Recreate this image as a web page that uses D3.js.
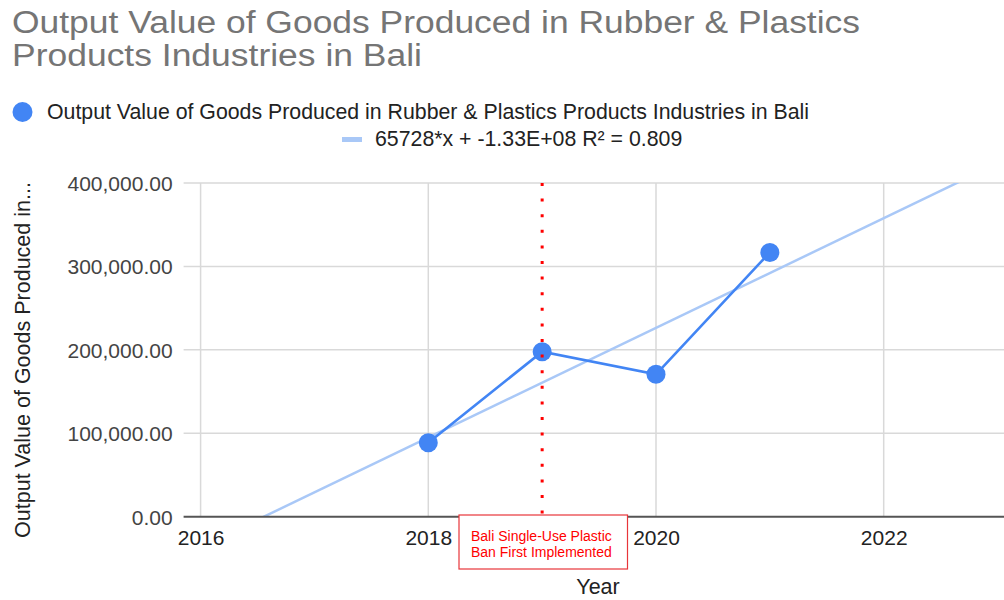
<!DOCTYPE html>
<html>
<head>
<meta charset="utf-8">
<script src="https://cdn.jsdelivr.net/npm/d3@7"></script>
<style>
  html, body { margin: 0; padding: 0; background: #fff; }
  svg { display: block; font-family: "Liberation Sans", Arial, sans-serif; }
</style>
</head>
<body>
<svg id="chart" width="1004" height="600"></svg>
<script>
// Output value by year (Bali, rubber & plastics products industries)
const years = [2018, 2019, 2020, 2021];
const outputValues = [88700, 197800, 170700, 316800];
const xTickYears = [2016, 2018, 2020, 2022];
const yTickValues = [0, 100000, 200000, 300000, 400000];
const titleLines = ["Output Value of Goods Produced in Rubber & Plastics", "Products Industries in Bali"];
const seriesName = "Output Value of Goods Produced in Rubber & Plastics Products Industries in Bali";
const trendLabel = "65728*x + -1.33E+08 R\u00b2 = 0.809";
const banYear = 2019;
const banLabel = ["Bali Single-Use Plastic", "Ban First Implemented"];

const W = 1004, H = 600;
const plot = { left: 200.6, top: 183, bottom: 516.7, right: 1004 };
const FONT = "Liberation Sans, Arial, sans-serif";

const svg = d3.select("#chart");

const x = d3.scaleLinear().domain([2016, 2023.2]).range([plot.left, plot.left + 7.2 * 113.85]);
const y = d3.scaleLinear().domain([0, 400000]).range([plot.bottom, plot.top]);

// Title (two lines, widened to span the header)
const titleWidths = [848, 410];
svg.append("g").selectAll("text").data(titleLines).join("text")
  .attr("x", 12).attr("y", (d, i) => 33 + i * 32.5)
  .attr("fill", "#757575").attr("font-size", 31)
  .attr("textLength", (d, i) => titleWidths[i])
  .attr("lengthAdjust", "spacingAndGlyphs")
  .text(d => d);

// Legend
const leg = svg.append("g");
leg.append("circle").attr("cx", 22.5).attr("cy", 112).attr("r", 10).attr("fill", "#4285f4");
leg.append("text").attr("x", 47).attr("y", 118.5).attr("font-size", 21.3).attr("fill", "#222").text(seriesName);
leg.append("line").attr("x1", 342).attr("x2", 362).attr("y1", 139.5).attr("y2", 139.5)
  .attr("stroke", "#a9c8f7").attr("stroke-width", 5);
leg.append("text").attr("x", 375).attr("y", 145.5).attr("font-size", 21.3).attr("fill", "#222").text(trendLabel);

// Clip for plot contents
svg.append("defs").append("clipPath").attr("id", "plotClip")
  .append("rect").attr("x", plot.left).attr("y", plot.top)
  .attr("width", plot.right - plot.left).attr("height", plot.bottom - plot.top);

// Grid lines
const grid = svg.append("g");
grid.selectAll("line.h").data(yTickValues.filter(v => v > 0)).join("line")
  .attr("class", "h")
  .attr("x1", plot.left - 17).attr("x2", plot.right)
  .attr("y1", d => y(d)).attr("y2", d => y(d))
  .attr("stroke", "#d9d9d9").attr("stroke-width", 1.5);
grid.selectAll("line.v").data(xTickYears).join("line")
  .attr("class", "v")
  .attr("x1", d => x(d)).attr("x2", d => x(d))
  .attr("y1", plot.top).attr("y2", plot.bottom)
  .attr("stroke", "#d9d9d9").attr("stroke-width", 1.5);

// Y axis labels
const yAxis = d3.axisLeft(y).tickValues(yTickValues).tickSize(0).tickPadding(0)
  .tickFormat(d3.format(",.2f"));
const yg = svg.append("g").attr("transform", `translate(${plot.left - 28},0)`).call(yAxis);
yg.select(".domain").remove();
yg.selectAll("text").attr("font-size", 21).attr("fill", "#444").attr("font-family", FONT)
  .attr("dy", "0.36em");

// X axis labels
const xAxis = d3.axisBottom(x).tickValues(xTickYears).tickSize(0).tickPadding(0).tickFormat(d3.format("d"));
const xg = svg.append("g").attr("transform", "translate(0,545)").call(xAxis);
xg.select(".domain").remove();
xg.selectAll("text").attr("font-size", 21).attr("fill", "#222").attr("font-family", FONT)
  .attr("y", 0).attr("dy", 0);

// Axis titles
svg.append("text").attr("x", 598).attr("y", 594).attr("text-anchor", "middle")
  .attr("font-size", 21.5).attr("fill", "#222").text("Year");
svg.append("text").attr("transform", "translate(30,360) rotate(-90)").attr("text-anchor", "middle")
  .attr("font-size", 21.5).attr("fill", "#222").text("Output Value of Goods Produced in...");

// Least-squares trend line from the data
const mx = d3.mean(years), my = d3.mean(outputValues);
const sxy = d3.sum(years, (v, i) => (v - mx) * (outputValues[i] - my));
const sxx = d3.sum(years, v => (v - mx) ** 2);
const slope = sxy / sxx, intercept = my - slope * mx;
const tx = x.domain();
svg.append("line").attr("clip-path", "url(#plotClip)")
  .attr("x1", x(tx[0])).attr("y1", y(slope * tx[0] + intercept))
  .attr("x2", x(tx[1])).attr("y2", y(slope * tx[1] + intercept))
  .attr("stroke", "#a9c8f7").attr("stroke-width", 2.5);

// Baseline
svg.append("line").attr("x1", plot.left - 17).attr("x2", plot.right)
  .attr("y1", plot.bottom).attr("y2", plot.bottom)
  .attr("stroke", "#555").attr("stroke-width", 2);

// Series line and points
const pts = years.map((yr, i) => [yr, outputValues[i]]);
svg.append("path").datum(pts)
  .attr("fill", "none").attr("stroke", "#4285f4").attr("stroke-width", 2.6)
  .attr("d", d3.line().x(d => x(d[0])).y(d => y(d[1])));
svg.append("g").selectAll("circle").data(pts).join("circle")
  .attr("cx", d => x(d[0])).attr("cy", d => y(d[1])).attr("r", 9.5).attr("fill", "#4285f4");

// Ban annotation: dotted marker line and label box
svg.append("line")
  .attr("x1", x(banYear)).attr("x2", x(banYear))
  .attr("y1", plot.top).attr("y2", plot.bottom)
  .attr("stroke", "#ff0000").attr("stroke-width", 3).attr("stroke-dasharray", "3 12.6");
svg.append("rect").attr("x", 459).attr("y", 515).attr("width", 168.5).attr("height", 54)
  .attr("fill", "#fff").attr("stroke", "#e8353a").attr("stroke-width", 1.2);
svg.append("g").selectAll("text").data(banLabel).join("text")
  .attr("x", 471).attr("y", (d, i) => 540.7 + i * 16.6)
  .attr("font-size", 14).attr("fill", "#ff0000").text(d => d);
</script>
</body>
</html>
